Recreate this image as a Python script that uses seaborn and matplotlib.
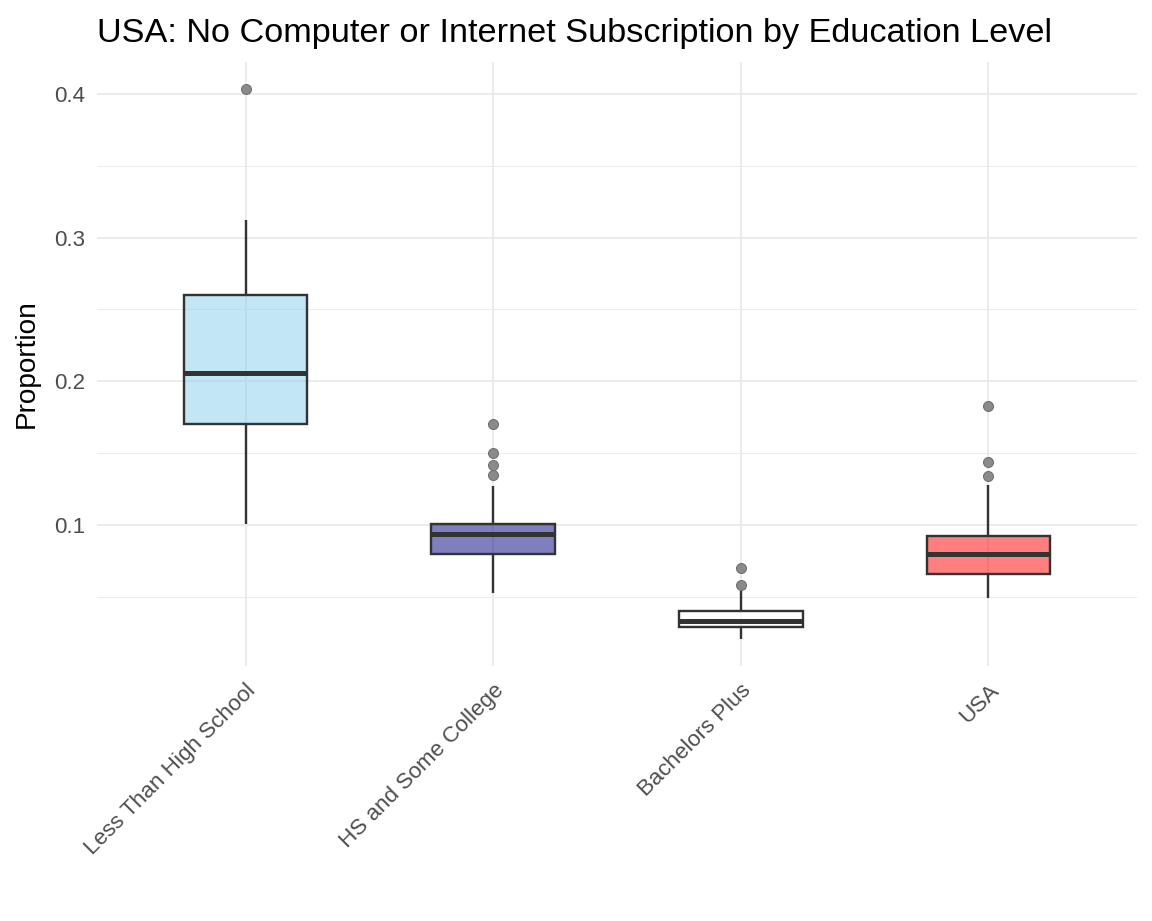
import numpy as np
import pandas as pd
import matplotlib
matplotlib.use("Agg")
import matplotlib.pyplot as plt
import seaborn as sns
from matplotlib.ticker import FixedLocator, MultipleLocator

# values
categories = ["Less Than High School", "HS and Some College", "Bachelors Plus", "USA"]
whisker_lo = [0.101, 0.053, 0.021, 0.049]
q1 = [0.170, 0.080, 0.029, 0.066]
medians = [0.206, 0.094, 0.033, 0.080]
q3 = [0.260, 0.101, 0.040, 0.092]
whisker_hi = [0.312, 0.127, 0.054, 0.128]
outliers = [[0.403], [0.135, 0.142, 0.150, 0.170], [0.058, 0.070], [0.134, 0.144, 0.183]]
fill_colors = ["skyblue", "navy", "white", "red"]

y_ticks = [0.1, 0.2, 0.3, 0.4]
y_ticklabels = ["0.1", "0.2", "0.3", "0.4"]


def group_values(i, block=20):
    # repeated quartile blocks so the computed box stats land on the read values
    vals = [whisker_lo[i]] + [q1[i]] * block + [medians[i]] * block + [q3[i]] * block
    vals += [whisker_hi[i]] + list(outliers[i])
    return vals


rows = []
for i, cat in enumerate(categories):
    for v in group_values(i):
        rows.append({"level": cat, "value": v})
df = pd.DataFrame(rows)

sns.set_style("white")
plt.rcParams["font.family"] = ["Liberation Sans", "DejaVu Sans"]

fig = plt.figure(figsize=(8, 921 / 144), dpi=144)
ax = fig.add_axes([97 / 1152, 1 - 666 / 921, (1137 - 97) / 1152, (666 - 62) / 921])

sns.boxplot(
    data=df, x="level", y="value", hue="level", order=categories,
    hue_order=categories, palette=fill_colors, saturation=1, legend=False, width=0.5,
    linecolor="#333333", linewidth=1.2, showcaps=False, ax=ax,
    medianprops={"linewidth": 2.5, "color": "#333333"},
    flierprops={"marker": "o", "markersize": 5, "markerfacecolor": "#8a8a8a",
                "markeredgecolor": "#6e6e6e", "markeredgewidth": 0.5},
)

# semi transparent fills like the original
for patch in ax.patches:
    fc = patch.get_facecolor()
    patch.set_facecolor((fc[0], fc[1], fc[2], 0.5))

all_vals = df["value"]
span = all_vals.max() - all_vals.min()
ax.set_ylim(all_vals.min() - 0.05 * span, all_vals.max() + 0.05 * span)
ax.set_xlim(-0.6, len(categories) - 1 + 0.6)

ax.yaxis.set_major_locator(FixedLocator(y_ticks))
ax.set_yticklabels(y_ticklabels)
ax.yaxis.set_minor_locator(MultipleLocator(0.05))

ax.set_axisbelow(True)
ax.grid(which="major", axis="both", color="#EBEBEB", linewidth=1.0)
ax.grid(which="minor", axis="y", color="#EBEBEB", linewidth=0.5)
for s in ax.spines.values():
    s.set_visible(False)

ax.tick_params(axis="both", which="both", length=0, labelsize=11.2, labelcolor="#4D4D4D")
ax.tick_params(axis="y", pad=6)
ax.tick_params(axis="x", pad=7)
plt.setp(ax.get_xticklabels(), rotation=45, ha="right", va="top", rotation_mode="anchor")

ax.set_xlabel("")
ax.set_ylabel("Proportion", fontsize=14, color="black", labelpad=7)
ax.set_title("USA: No Computer or Internet Subscription by Education Level",
             fontsize=17.1, loc="left", pad=10, color="black")

fig.savefig("out.png", dpi=144)
